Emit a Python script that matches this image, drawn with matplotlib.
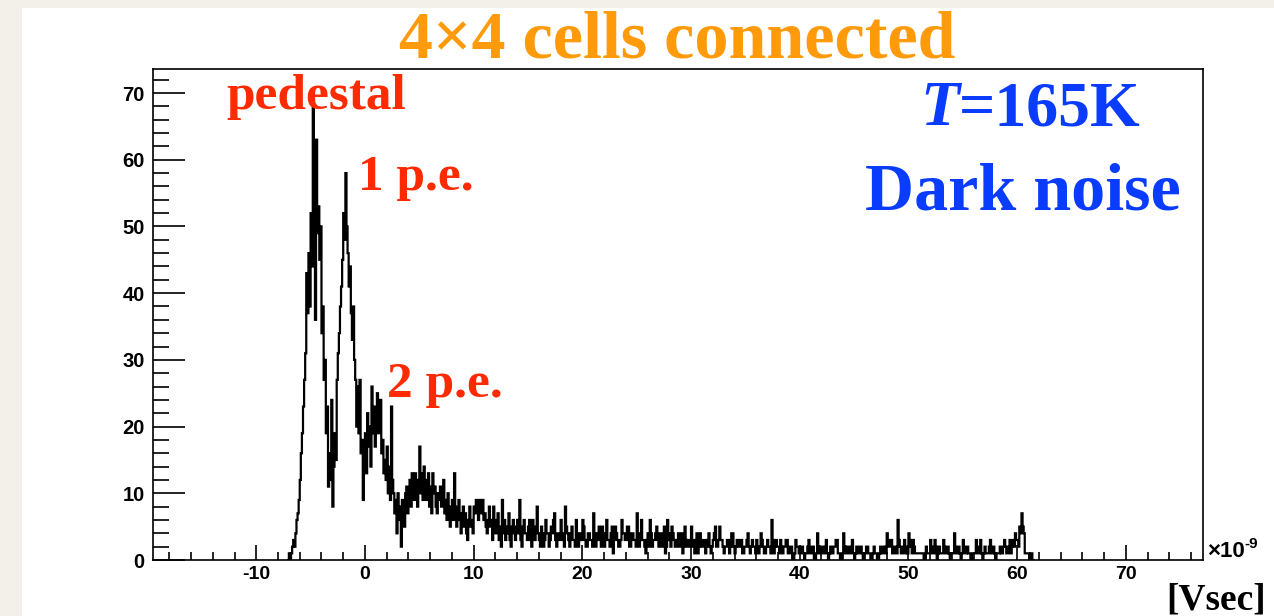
import matplotlib
matplotlib.use("Agg")
import matplotlib.pyplot as plt
import numpy as np
from matplotlib.ticker import MultipleLocator
from matplotlib.patches import Rectangle

# histogram of the charge spectrum, x in units of 1e-9 Vsec, one row = 1 unit
bin_start = -7.2
bin_width = 0.1
counts = [
    0, 0, 1, 0, 1, 2, 3, 2, 4, 6,
    7, 9, 12, 16, 19, 23, 27, 31, 43, 37,
    46, 38, 52, 44, 68, 47, 36, 63, 49, 53,
    45, 50, 34, 38, 27, 30, 19, 23, 11, 16,
    12, 24, 8, 14, 19, 15, 27, 31, 34, 38,
    41, 45, 52, 48, 58, 50, 46, 41, 44, 37,
    33, 38, 30, 27, 20, 26, 19, 27, 16, 18,
    9, 14, 19, 13, 22, 17, 20, 14, 26, 19,
    23, 17, 22, 25, 19, 21, 24, 16, 18, 13,
    15, 12, 17, 10, 14, 9, 23, 12, 10, 7,
    9, 4, 10, 6, 8, 2, 9, 7, 5, 10,
    11, 7, 9, 12, 8, 13, 10, 9, 13, 11,
    8, 12, 17, 10, 13, 9, 14, 11, 9, 12,
    13, 8, 11, 7, 13, 10, 11, 8, 7, 10,
    9, 11, 8, 10, 12, 7, 9, 6, 10, 8,
    5, 7, 9, 6, 13, 8, 5, 7, 9, 6,
    4, 7, 8, 5, 7, 4, 3, 6, 8, 5,
    6, 4, 8, 7, 9, 8, 6, 9, 8, 7,
    9, 6, 7, 5, 4, 6, 8, 5, 6, 3,
    8, 5, 4, 6, 7, 3, 5, 2, 9, 4,
    6, 3, 5, 4, 7, 3, 2, 5, 6, 4,
    3, 5, 6, 4, 9, 3, 2, 5, 6, 4,
    4, 3, 5, 6, 3, 2, 6, 4, 3, 5,
    8, 4, 3, 2, 5, 4, 2, 3, 6, 4,
    4, 2, 3, 5, 4, 6, 7, 3, 2, 4,
    4, 3, 6, 4, 3, 2, 8, 5, 4, 3,
    2, 4, 5, 3, 3, 2, 6, 4, 2, 3,
    4, 3, 6, 5, 3, 2, 2, 4, 4, 3,
    3, 2, 7, 4, 2, 3, 4, 5, 3, 2,
    5, 3, 2, 4, 6, 3, 3, 2, 4, 5,
    1, 3, 5, 4, 3, 2, 2, 3, 6, 4,
    4, 3, 3, 5, 5, 2, 2, 4, 4, 3,
    3, 2, 7, 4, 2, 3, 6, 3, 3, 2,
    1, 3, 4, 2, 6, 4, 2, 3, 3, 4,
    5, 3, 2, 4, 4, 2, 3, 5, 1, 2,
    6, 3, 4, 2, 5, 4, 3, 2, 2, 3,
    4, 2, 3, 4, 1, 2, 5, 3, 2, 3,
    3, 2, 5, 3, 2, 1, 3, 4, 1, 2,
    4, 2, 2, 3, 3, 1, 2, 3, 4, 2,
    1, 2, 3, 4, 5, 2, 2, 3, 5, 3,
    3, 2, 1, 2, 2, 3, 3, 1, 2, 4,
    4, 2, 1, 2, 3, 2, 2, 3, 3, 1,
    1, 2, 2, 3, 4, 2, 1, 2, 3, 2,
    2, 1, 3, 2, 1, 2, 4, 3, 2, 1,
    1, 2, 3, 2, 2, 1, 6, 3, 1, 2,
    3, 2, 2, 1, 3, 2, 1, 2, 2, 3,
    3, 1, 1, 2, 2, 0, 0, 1, 3, 2,
    2, 1, 1, 2, 2, 1, 0, 1, 1, 2,
    3, 1, 1, 2, 2, 0, 0, 1, 4, 2,
    1, 2, 2, 1, 1, 2, 3, 1, 0, 1,
    2, 1, 1, 2, 2, 3, 3, 1, 1, 0,
    0, 1, 4, 2, 1, 2, 2, 1, 1, 2,
    3, 1, 0, 1, 2, 1, 1, 2, 2, 1,
    0, 1, 1, 2, 2, 1, 1, 0, 0, 1,
    2, 1, 1, 0, 0, 1, 2, 1, 1, 2,
    2, 1, 4, 2, 2, 3, 3, 1, 1, 2,
    2, 1, 6, 3, 2, 1, 1, 2, 3, 1,
    2, 1, 4, 3, 2, 1, 3, 2, 1, 1,
    1, 1, 1, 1, 1, 1, 0, 0, 2, 1,
    1, 1, 3, 2, 1, 1, 3, 2, 0, 1,
    2, 1, 1, 1, 3, 2, 1, 1, 2, 1,
    0, 1, 1, 1, 4, 2, 1, 1, 2, 1,
    0, 1, 3, 2, 1, 1, 2, 1, 1, 0,
    0, 1, 1, 1, 3, 2, 1, 1, 3, 1,
    0, 1, 2, 1, 1, 1, 2, 3, 1, 1,
    2, 1, 0, 1, 1, 1, 2, 1, 1, 2,
    3, 2, 1, 1, 2, 3, 1, 2, 3, 2,
    4, 3, 3, 2, 5, 4, 7, 5, 4, 1,
    1, 1, 1, 0, 1, 1, 0, 0,
]

title = "4×4 cells connected"
peak_labels = ["pedestal", "1 p.e.", "2 p.e."]

W, H = 1274, 616
plt.rcParams["font.family"] = "Liberation Sans"
plt.rcParams["font.weight"] = "bold"
plt.rcParams["axes.unicode_minus"] = False

fig = plt.figure(figsize=(W / 100, H / 100), dpi=100)
fig.patch.set_facecolor("#f3f0ea")
fig.patches.append(Rectangle((22 / W, 0), 1, 1 - 8 / H, transform=fig.transFigure,
                             facecolor="white", edgecolor="none", zorder=-10))

ax = fig.add_axes([153 / W, 1 - 560 / H, 1050 / W, 491 / H])
ax.set_facecolor("none")
edges = bin_start + bin_width * np.arange(len(counts) + 1)
ax.stairs(counts, edges, color="black", linewidth=1.6)

ax.set_xlim(-19.5, 77.1)
ax.set_ylim(0, 73.6)
ax.xaxis.set_major_locator(MultipleLocator(10))
ax.xaxis.set_minor_locator(MultipleLocator(2))
ax.yaxis.set_major_locator(MultipleLocator(10))
ax.yaxis.set_minor_locator(MultipleLocator(2))
ax.tick_params(which="both", direction="in", top=False, right=False, width=1.2)
ax.tick_params(axis="y", which="major", length=23, labelsize=14.5, pad=6)
ax.tick_params(axis="y", which="minor", length=11.5)
ax.tick_params(axis="x", which="major", length=11, labelsize=14, pad=4)
ax.tick_params(axis="x", which="minor", length=5.5)
for s in ax.spines.values():
    s.set_linewidth(1.2)

def px(x, y):
    return x / W, 1 - y / H

serif = dict(family="Liberation Serif", weight="bold")
fig.text(*px(677, 57), title, color="#ff9a0a", fontsize=49, ha="center", va="baseline", **serif)

red = "#ff2a00"
fig.text(*px(226, 109), peak_labels[0], color=red, fontsize=37, va="baseline", **serif)
fig.text(*px(358, 190), peak_labels[1], color=red, fontsize=37, va="baseline", **serif)
fig.text(*px(387, 397), peak_labels[2], color=red, fontsize=37, va="baseline", **serif)

blue = "#0a3cff"
t1 = fig.text(*px(920, 125), "T", color=blue, fontsize=46, va="baseline",
              family="Liberation Serif", weight="bold", style="italic")
fig.text(*px(865, 210), "Dark noise", color=blue, fontsize=49, va="baseline", **serif)

t3 = fig.text(*px(1207, 557), "×10", color="black", fontsize=16, va="baseline")
fig.text(*px(1266, 609), "[Vsec]", color="black", fontsize=27, ha="right",
         va="baseline", **serif)

fig.canvas.draw()
r = fig.canvas.get_renderer()
bb = t1.get_window_extent(r)
fig.text(bb.x1 / W, 1 - 125 / H, "=165K", color=blue, fontsize=46, va="baseline", **serif)
bb = t3.get_window_extent(r)
fig.text(bb.x1 / W, 1 - 548 / H, "-9", color="black", fontsize=11, va="baseline")

fig.savefig("out.png", dpi=100, facecolor=fig.get_facecolor())
